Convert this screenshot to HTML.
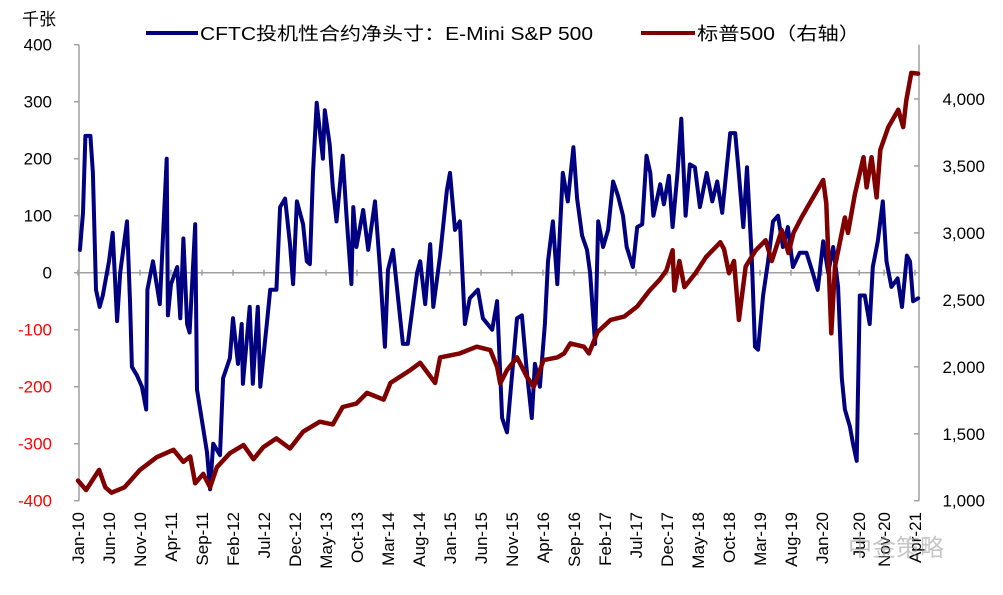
<!DOCTYPE html>
<html><head><meta charset="utf-8"><style>
body{margin:0;background:#fff;}
svg{display:block;font-family:"Liberation Sans","Noto Sans CJK SC",sans-serif;}
</style></head><body>
<svg id="chart" width="1003" height="595" viewBox="0 0 1003 595" xmlns="http://www.w3.org/2000/svg">
<text x="22" y="25" font-size="17" fill="#000">千张</text>
<g>
<line x1="146" y1="33" x2="198" y2="33" stroke="#000080" stroke-width="4"/>
<text x="200" y="40" font-size="18" fill="#000" textLength="393" lengthAdjust="spacingAndGlyphs">CFTC投机性合约净头寸：E-Mini S&amp;P 500</text>
<line x1="641" y1="33" x2="695" y2="33" stroke="#800000" stroke-width="4"/>
<text x="697" y="40" font-size="18" fill="#000" textLength="163" lengthAdjust="spacingAndGlyphs">标普500（右轴）</text>
</g>
<g id="axes"></g>
<g id="series"></g>
<text x="848" y="556" font-size="24" fill="#999" opacity="0.55">中金策略</text>
</svg>
<script>
const xLabels=["Jan-10","Jun-10","Nov-10","Apr-11","Sep-11","Feb-12","Jul-12","Dec-12","May-13","Oct-13","Mar-14","Aug-14","Jan-15","Jun-15","Nov-15","Apr-16","Sep-16","Feb-17","Jul-17","Dec-17","May-18","Oct-18","Mar-19","Aug-19","Jan-20","Jul-20","Nov-20","Apr-21"];
const leftTicks=[400,300,200,100,0,-100,-200,-300,-400];
const rightTicks=[1000,1500,2000,2500,3000,3500,4000];
const rightTickLabels=["1,000","1,500","2,000","2,500","3,000","3,500","4,000"];
// months since Jan 2010
const cftcT=[0.3,0.8,1.2,2,2.4,2.9,3.5,4,5,5.6,6.3,6.8,7.9,8.4,8.7,9.5,10.3,11,11.2,12.1,13.2,14.3,14.5,15,16,16.5,17,17.6,18,18.9,19.2,20,20.8,21.3,21.8,22.9,23.4,24.5,25,25.8,26.4,26.6,27.7,28.2,29,29.4,30.5,31,32,32.6,33.4,34.2,34.7,35.3,36.3,36.9,37.4,37.9,38.5,39.5,39.8,40.6,41.1,41.7,42.7,43.3,44.1,44.4,44.9,46,46.8,47.9,48.7,49.5,50,50.8,52.4,53.2,54.7,55.2,56,56.8,57.3,58.4,59.5,60,60.8,61.6,62.4,63.2,64.5,65.3,66.8,67.6,68.4,69.2,70,70.8,71.6,72.4,73.2,73.7,74.5,75.3,75.8,76.6,77.3,78.2,79,79.9,80.5,81.3,82.1,82.6,83.4,83.9,84.7,85.5,86.3,87.1,87.9,88.5,89.5,90.2,91,91.7,92.3,92.8,93.9,94.5,95.3,95.9,96.7,97.3,98,98.7,99.5,100.3,101.4,102.3,103.1,103.9,105.2,106,106.5,107.3,107.9,108.7,109.2,109.7,110.5,111.3,112.1,112.9,113.7,114.5,115.3,116.4,117.5,118.5,119.3,120.2,121,121.8,122.6,123.2,123.7,124.5,125,125.6,126.1,126.9,127.7,128.2,129,129.8,130.4,131.2,132.2,132.9,133.7,134.2,134.7,135.5];
const cftcValues=[40,105,240,240,175,-30,-60,-40,20,70,-85,0,90,-55,-165,-180,-200,-240,-30,20,-55,200,-75,-20,10,-80,60,-90,-105,85,-205,-260,-315,-380,-300,-320,-185,-150,-80,-160,-90,-195,-60,-195,-60,-200,-85,-30,-30,115,130,50,-20,125,85,20,15,175,298,200,285,225,150,90,205,100,-20,115,45,110,40,125,10,-130,5,40,-125,-125,0,20,-55,50,-60,30,145,175,75,90,-90,-45,-30,-80,-100,-50,-255,-280,-180,-80,-75,-175,-255,-160,-200,-90,20,90,-20,175,125,220,130,65,40,0,-125,90,45,75,160,135,100,45,10,80,85,205,175,100,155,120,170,80,175,270,100,190,185,115,175,125,160,105,245,245,185,80,185,20,-130,-135,-40,20,90,100,45,80,10,35,35,0,-30,55,0,45,-25,-185,-240,-270,-300,-330,-40,-40,-90,10,55,125,20,-25,-10,-60,30,20,-50,-45];
const spxT=[0,1.3,3.4,4.4,5.4,7.5,10,12.7,15.4,17,18.1,18.9,20.2,21.3,22.4,24.5,26.7,28.3,29.9,32,34.2,36.3,39,41.1,42.7,44.9,46.6,49.3,50.4,53.6,55.2,57.6,58.4,61.6,64.3,66.5,67.6,68.1,69.2,70.8,72.4,73.5,75.1,77.3,78.4,79.4,81.6,82.4,83.8,85.9,88.1,90.2,92.2,93.8,94.9,95.9,96.2,97,97.8,99.6,101.3,103.6,104.2,105,105.8,106.6,107.7,109.3,110.9,111.9,113.5,114.6,115.4,116.7,118.3,120.2,120.7,121.5,122.1,123.7,124.2,125.3,126.7,127.2,128,128.8,129.4,130.7,132.3,133.1,133.6,134.4,135.5];
const spxValues=[1150,1080,1230,1100,1060,1100,1230,1325,1380,1290,1330,1130,1200,1100,1250,1355,1415,1310,1400,1465,1390,1515,1590,1570,1700,1725,1805,1755,1880,1975,2030,1880,2070,2100,2150,2125,2000,1875,1975,2070,1925,1850,2050,2070,2100,2175,2150,2100,2260,2350,2375,2450,2570,2650,2720,2870,2570,2790,2595,2700,2820,2930,2880,2700,2790,2350,2750,2870,2945,2790,3020,2850,3000,3115,3245,3395,3220,2250,2750,3115,3000,3290,3565,3340,3565,3265,3620,3790,3920,3790,3990,4195,4190];

const NS="http://www.w3.org/2000/svg";
const X0=79,X1=919,Y0=44.7,Y1=500.7;
const xS=m=>78+6.2*m;
const yL=v=>272.7-v*0.57;
const yR=v=>500.7-(v-1000)*0.1339;
function mk(tag,attrs,parent,text){const e=document.createElementNS(NS,tag);for(const k in attrs)e.setAttribute(k,attrs[k]);if(text!==undefined)e.textContent=text;parent.appendChild(e);return e;}
const ax=document.getElementById('axes');
let e=mk('line',{x1:X0,y1:Y0,x2:X0,y2:Y1,stroke:'#a0a0a0','stroke-width':1.5},ax);


e=mk('line',{x1:X1,y1:Y0,x2:X1,y2:Y1,stroke:'#a0a0a0','stroke-width':1.5},ax);


e=mk('line',{x1:X0,y1:yL(0),x2:X1,y2:yL(0),stroke:'#a0a0a0','stroke-width':1.5},ax);


leftTicks.forEach(v=>{
  const y=yL(v);
  let t=mk('line',{x1:X0-5,y1:y,x2:X0,y2:y,stroke:'#a0a0a0','stroke-width':1.5},ax);
  
  
  let l=mk('text',{x:52,y:y+6,'font-size':17,'text-anchor':'end',fill:v<0?'#ff0000':'#000'},ax,String(v));
  
  
});
rightTicks.forEach((v,i)=>{
  const y=yR(v);
  let t=mk('line',{x1:X1-5,y1:y,x2:X1,y2:y,stroke:'#a0a0a0','stroke-width':1.5},ax);
  
  
  let l=mk('text',{x:985,y:y+6,'font-size':17,'text-anchor':'end',fill:'#000'},ax,rightTickLabels[i]);
  
  
});
xLabels.forEach((s,i)=>{
  const m=i<25?i*5:(i===25?126:(i===26?130:135));
  const x=xS(m);
  let t=mk('line',{x1:x,y1:yL(0)-3,x2:x,y2:yL(0)+3,stroke:'#a0a0a0','stroke-width':1.5},ax);
  
  
  let l=mk('text',{x:0,y:0,'font-size':17,'text-anchor':'end',fill:'#000',transform:`translate(${x+6},${512}) rotate(-90)`},ax,s);
  
  
});
const sg=document.getElementById('series');
let d=cftcT.map((m,i)=>(i?'L':'M')+xS(m).toFixed(1)+','+yL(cftcValues[i]).toFixed(1)).join('');
let p=mk('path',{d:d,fill:'none',stroke:'#000080','stroke-width':4,'stroke-linejoin':'round','stroke-linecap':'round'},sg);


d=spxT.map((m,i)=>(i?'L':'M')+xS(m).toFixed(1)+','+yR(spxValues[i]).toFixed(1)).join('');
p=mk('path',{d:d,fill:'none',stroke:'#800000','stroke-width':4.5,'stroke-linejoin':'round','stroke-linecap':'round'},sg);


</script>
</body></html>
